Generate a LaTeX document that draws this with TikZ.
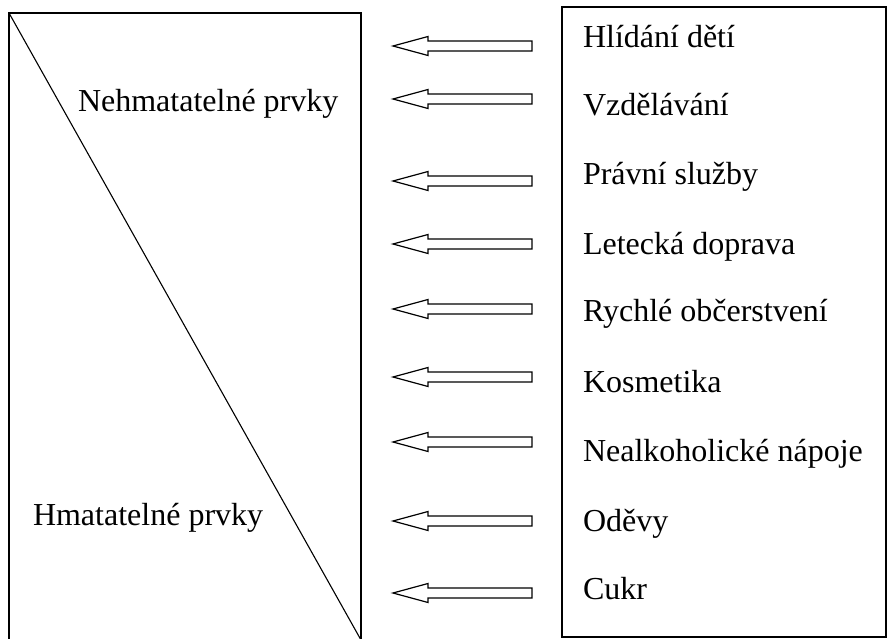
\documentclass[tikz,border=0pt]{standalone}
\usepackage{fontspec}
\setmainfont{Liberation Serif}
\usepackage{tikz}
\usetikzlibrary{calc, positioning}
\tikzset{box/.style={draw=black, line width=1.4pt},
txt/.style={inner sep=0pt, outer sep=0pt, anchor=base west, font=\fontsize{32}{38}\selectfont},
%hollow arrow pointing left, tip at the pic origin
leftarrow/.pic={\draw[line width=1.2pt, line join=miter] (0,0) -- (35,-9.5) -- (35,-5) -- (139,-5) -- (139,5) -- (35,5) -- (35,9.5) -- cycle;}}

\begin{document}
\begin{tikzpicture}[x=1pt, y=-1pt]
 \useasboundingbox (0,0) rectangle (887,639);

 %Drawing left box with diagonal
 \coordinate (ltop) at (9,13);
 \coordinate (lbot) at (361,641);
 \draw[box] (ltop) rectangle (lbot);
 \draw[line width=1.1pt] (ltop) -- (361,640);
 \node[txt] (intang) at (78,112) {Nehmatatelné prvky};
 \node[txt] (tang) at (33,525) {Hmatatelné prvky};

 %Drawing right box
 \draw[box] (562,7) rectangle (886,637);

 %Drawing Arrows
 \pic at (393,46) {leftarrow};
 \pic at (393,99) {leftarrow};
 \pic at (393,181) {leftarrow};
 \pic at (393,244) {leftarrow};
 \pic at (393,309) {leftarrow};
 \pic at (393,377) {leftarrow};
 \pic at (393,442) {leftarrow};
 \pic at (393,521) {leftarrow};
 \pic at (393,593) {leftarrow};

 %Drawing labels
 \node[txt] (item1) at (583,48) {Hlídání dětí};
 \node[txt] (item2) at (583,116) {Vzdělávání};
 \node[txt] (item3) at (583,185) {Právní služby};
 \node[txt] (item4) at (583,255) {Letecká doprava};
 \node[txt] (item5) at (583,322) {Rychlé občerstvení};
 \node[txt] (item6) at (583,392) {Kosmetika};
 \node[txt] (item7) at (583,461) {Nealkoholické nápoje};
 \node[txt] (item8) at (583,531) {Oděvy};
 \node[txt] (item9) at (583,599) {Cukr};

\end{tikzpicture}
\end{document}
